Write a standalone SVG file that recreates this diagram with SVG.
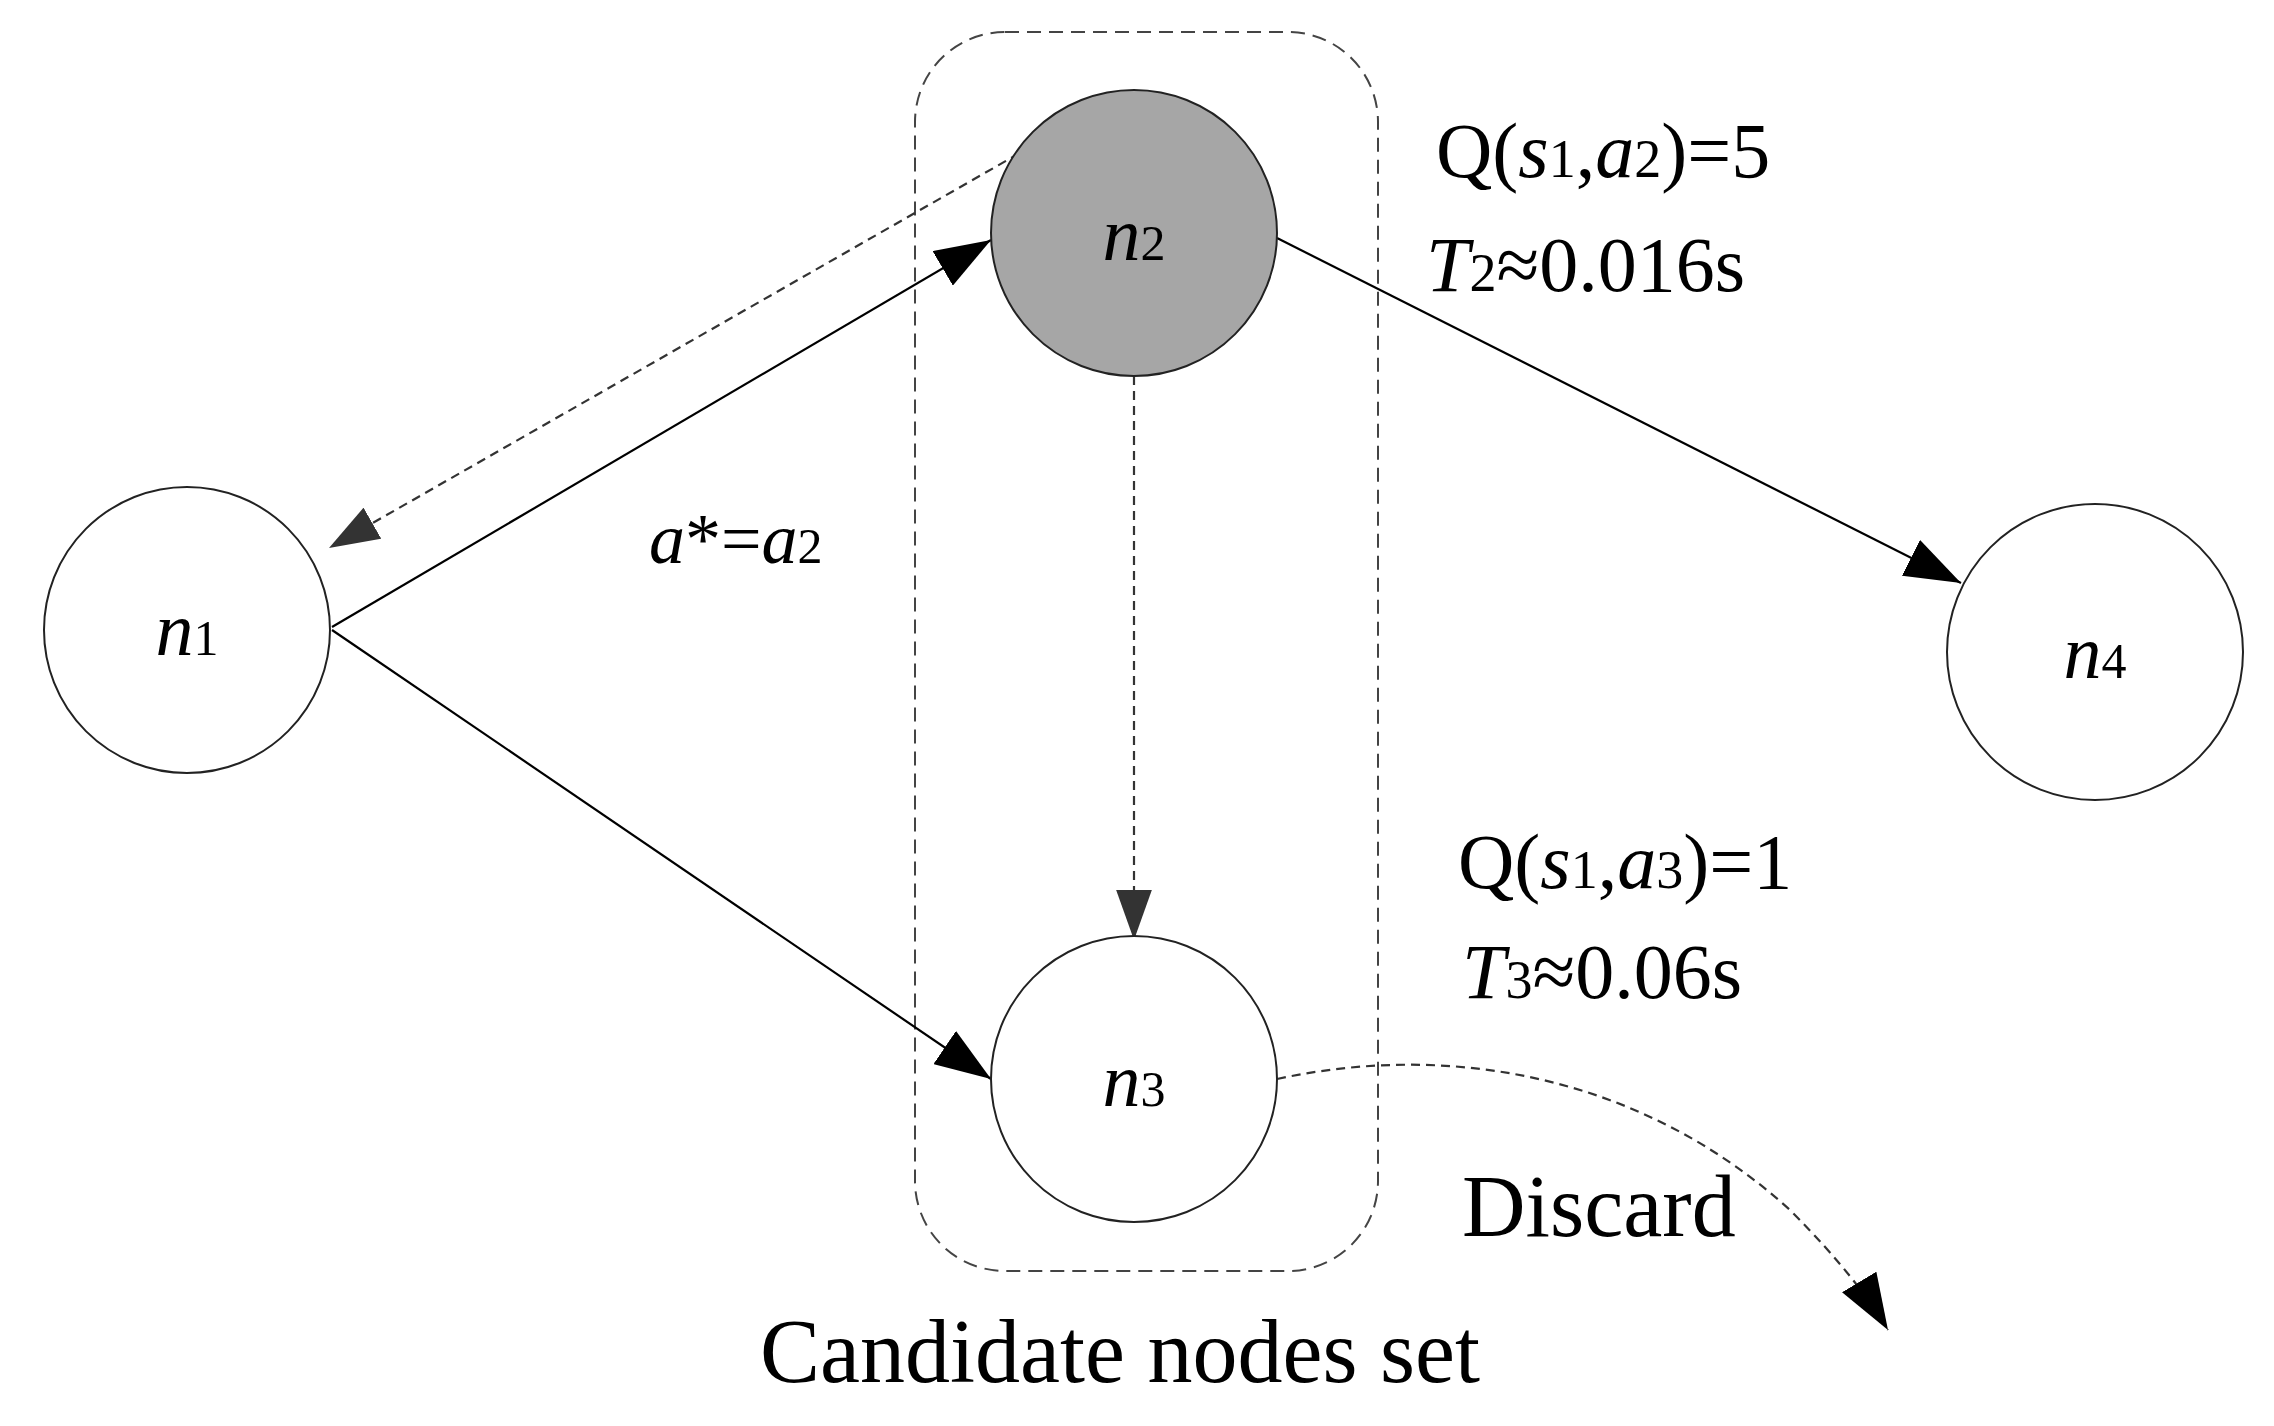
<svg xmlns="http://www.w3.org/2000/svg" width="2274" height="1426" viewBox="0 0 2274 1426">
<style>
.nd{fill:#fff;stroke:#222;stroke-width:2}
.t{font-family:"Liberation Serif",serif;fill:#000}
.i{font-style:italic}
.ln{stroke:#000;stroke-width:2.2;fill:none}
.ds{stroke:#333;stroke-width:2.2;fill:none;stroke-dasharray:9 6}
</style>
<defs>
<marker id="a" viewBox="0 0 14 10" refX="14" refY="5" markerWidth="56" markerHeight="40" markerUnits="userSpaceOnUse" orient="auto"><path d="M0,0L14,5L0,10z" fill="#000"/></marker>
<marker id="g" viewBox="0 0 14 10" refX="14" refY="5" markerWidth="50" markerHeight="36" markerUnits="userSpaceOnUse" orient="auto"><path d="M0,0L14,5L0,10z" fill="#333"/></marker>
</defs>
<rect width="2274" height="1426" fill="#fff"/>
<g id="candidate-set">
<rect x="915" y="32" width="463" height="1239" rx="90" fill="none" stroke="#444" stroke-width="2" stroke-dasharray="14 8"/>
<text class="t" x="1120" y="1382" font-size="90" text-anchor="middle">Candidate nodes set</text>
</g>
<g id="connectors">
<line class="ln" x1="332" y1="627" x2="991" y2="240" marker-end="url(#a)"/>
<line class="ln" x1="332" y1="630" x2="991" y2="1079" marker-end="url(#a)"/>
<line class="ln" x1="1277" y1="238" x2="1961" y2="583" marker-end="url(#a)"/>
<line class="ds" x1="1032" y1="146" x2="329" y2="548" marker-end="url(#g)"/>
<line class="ds" x1="1134" y1="376" x2="1134" y2="940" marker-end="url(#g)"/>
<path class="ds" d="M1277,1079 C1458,1040 1647,1080 1790,1210 C1840,1260 1870,1300 1888,1330" stroke="#000" marker-end="url(#a)"/>
</g>
<g id="n1"><circle class="nd" cx="187" cy="630" r="143"/><text class="t" x="187" y="655" font-size="76" text-anchor="middle"><tspan class="i">n</tspan><tspan font-size="50">1</tspan></text></g>
<g id="n2"><circle cx="1134" cy="233" r="143" fill="#a6a6a6" stroke="#222" stroke-width="2"/><text class="t" x="1134" y="260" font-size="76" text-anchor="middle"><tspan class="i">n</tspan><tspan font-size="50">2</tspan></text></g>
<g id="n3"><circle class="nd" cx="1134" cy="1079" r="143"/><text class="t" x="1134" y="1106" font-size="76" text-anchor="middle"><tspan class="i">n</tspan><tspan font-size="50">3</tspan></text></g>
<g id="n4"><circle class="nd" cx="2095" cy="652" r="148"/><text class="t" x="2095" y="678" font-size="76" text-anchor="middle"><tspan class="i">n</tspan><tspan font-size="50">4</tspan></text></g>
<g id="labels">
<text class="t" x="649" y="563" font-size="72"><tspan class="i">a</tspan>*=<tspan class="i">a</tspan><tspan font-size="50">2</tspan></text>
<text class="t" x="1436" y="177" font-size="78">Q(<tspan class="i">s</tspan><tspan font-size="54">1</tspan>,<tspan class="i">a</tspan><tspan font-size="54">2</tspan>)=5</text>
<text class="t" x="1426" y="291" font-size="78"><tspan class="i">T</tspan><tspan font-size="54">2</tspan>≈0.016s</text>
<text class="t" x="1458" y="888" font-size="78">Q(<tspan class="i">s</tspan><tspan font-size="54">1</tspan>,<tspan class="i">a</tspan><tspan font-size="54">3</tspan>)=1</text>
<text class="t" x="1462" y="998" font-size="78"><tspan class="i">T</tspan><tspan font-size="54">3</tspan>≈0.06s</text>
<text class="t" x="1462" y="1236" font-size="88">Discard</text>
</g>
</svg>
